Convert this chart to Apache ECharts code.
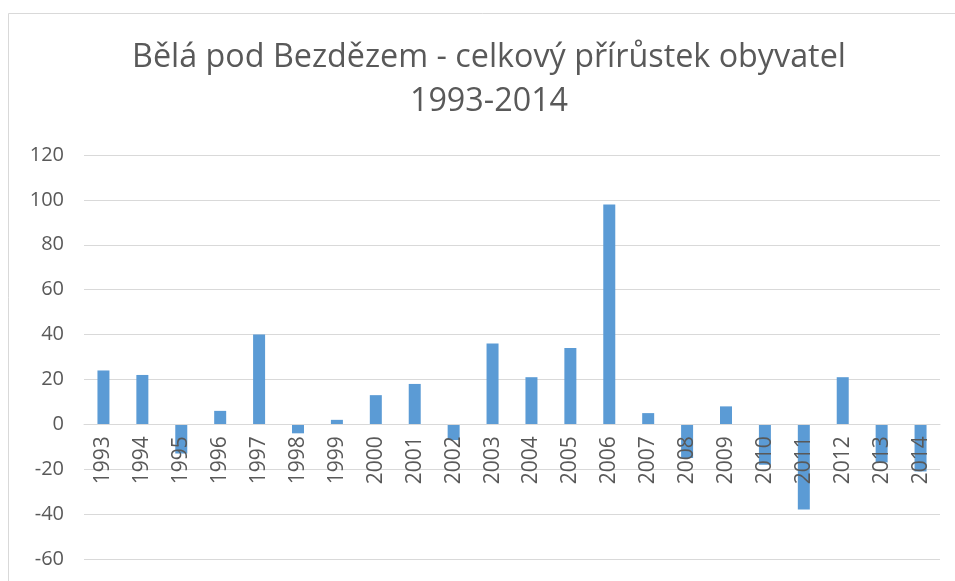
<!DOCTYPE html>
<html>
<head>
<meta charset="utf-8">
<script src="https://cdn.jsdelivr.net/npm/echarts@6/dist/echarts.min.js"></script>
<style>html,body{margin:0;padding:0;background:#fff}#c{width:955px;height:581px}</style>
</head>
<body>
<div id="c"></div>
<script>
const titleText = 'Bělá pod Bezdězem - celkový přírůstek obyvatel\n1993-2014';
const years = ['1993','1994','1995','1996','1997','1998','1999','2000','2001','2002','2003','2004','2005','2006','2007','2008','2009','2010','2011','2012','2013','2014'];
const growth = [24, 22, -13, 6, 40, -4, 2, 13, 18, -7, 36, 21, 34, 98, 5, -15, 8, -18, -38, 21, -17, -21];
const yMin = -60, yMax = 120, yStep = 20;

const gridTop = 155, gridBottom = 22, H = 581;
const plotH = H - gridTop - gridBottom;
// move the category axis up to the value-axis zero line
const zeroOffset = -plotH * (0 - yMin) / (yMax - yMin);

const chart = echarts.init(document.getElementById('c'));
const font = '"Open Sans", "Liberation Sans", sans-serif';
chart.setOption({
  animation: false,
  backgroundColor: '#fff',
  graphic: [{
    type: 'rect', left: 6, top: 11, shape: {width: 960, height: 590},
    style: {fill: 'none', stroke: '#d9d9d9', lineWidth: 1}, silent: true, z: -1
  }],
  title: {
    text: titleText, left: 484, textAlign: 'center', top: 31,
    textStyle: {fontFamily: font, fontSize: 32.3, fontWeight: 'normal', color: '#595959', lineHeight: 44}
  },
  grid: {left: 84, right: 15, top: gridTop, bottom: gridBottom, containLabel: false, outerBoundsMode: 'none'},
  xAxis: {
    type: 'category', data: years, z: 10, offset: zeroOffset,
    axisLine: {onZero: false, lineStyle: {color: '#d9d9d9'}},
    axisTick: {show: false},
    axisLabel: {rotate: 90, margin: 12, color: '#595959', fontSize: 21, fontFamily: font, interval: 0}
  },
  yAxis: {
    type: 'value', min: yMin, max: yMax, interval: yStep,
    axisLine: {show: false}, axisTick: {show: false},
    axisLabel: {color: '#595959', fontSize: 20, fontFamily: font, margin: 20},
    splitLine: {lineStyle: {color: '#d9d9d9', width: 1}}
  },
  series: [{
    type: 'bar', data: growth, barWidth: 12,
    itemStyle: {color: '#5b9bd5'}
  }]
});
</script>
</body>
</html>
